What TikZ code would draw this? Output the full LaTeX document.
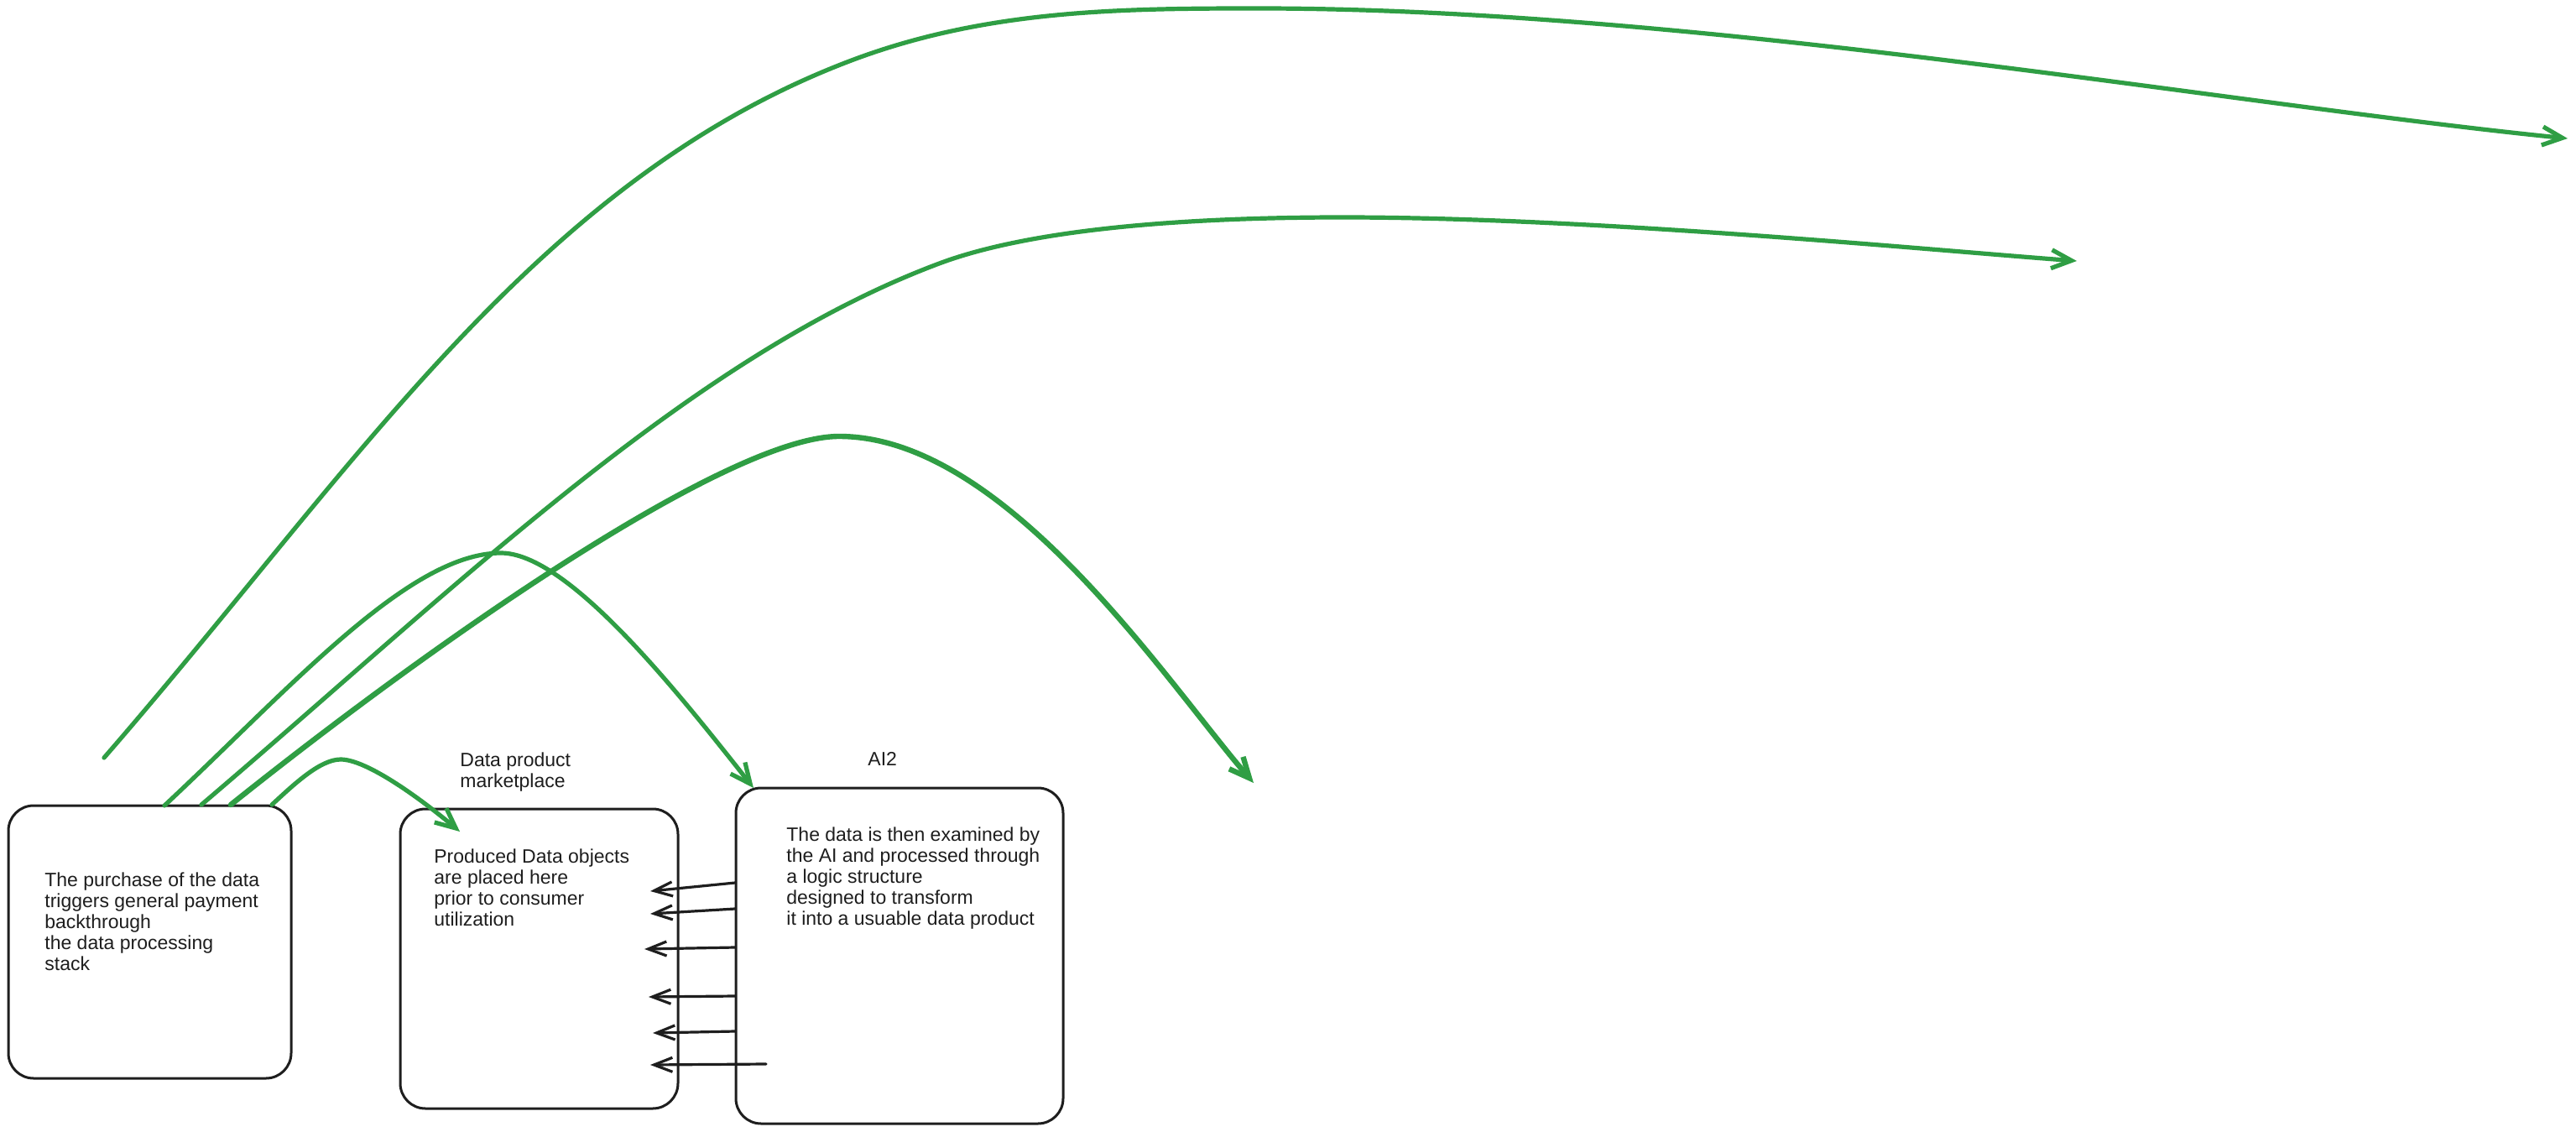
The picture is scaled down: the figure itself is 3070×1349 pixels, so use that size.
\documentclass[tikz,border=0pt]{standalone}
\usepackage{fontspec}
\setmainfont{Liberation Sans}
\usetikzlibrary{arrows.meta}
\definecolor{exgreen}{HTML}{2F9E44}
\definecolor{exblack}{HTML}{1E1E1E}
\begin{document}
\begin{tikzpicture}[x=0.5pt,y=-0.5pt,
  box/.style={draw=exblack, line width=1.5pt, rounded corners=15pt, inner sep=0pt},
  txt/.style={anchor=north west, inner sep=0pt, align=left, font=\fontsize{11.5}{12.5}\selectfont, text=exblack},
  garrow/.style={draw=exgreen, line width=2.6pt, line cap=round, line join=round, -{Straight Barb[length=12pt,width=11pt]}},
  gthick/.style={garrow, line width=3.2pt},
  karrow/.style={draw=exblack, line width=1.6pt, line cap=round, -{Straight Barb[length=11pt,width=8.5pt]}},
]
\fill[white] (0,0) rectangle (3070,1349);
\useasboundingbox (0,0) rectangle (3070,1349);

% boxes
\node[box, minimum width=168.5pt, minimum height=162.5pt] (purchase) at (178.5,1122.5) {};
\node[box, minimum width=165.5pt, minimum height=178.5pt] (market) at (642.5,1142.5) {};
\node[box, minimum width=195pt, minimum height=200pt] (ai) at (1072,1139) {};

% texts
\node[txt] (purchasetext) at (53,1039.4) {The purchase of the data\\triggers general payment\\backthrough\\the data processing\\stack};
\node[txt] (markettext) at (517,1011.4) {Produced Data objects\\are placed here\\prior to consumer\\utilization};
\node[txt] (aitext) at (937,985.4) {The data is then examined by\\the AI and processed through\\a logic structure\\designed to transform\\it into a usuable data product};
\node[txt] (marketlabel) at (548,896.4) {Data product\\marketplace};
\node[txt] (ailabel) at (1034,896.4) {AI2};

% coordinates for green connectors
\coordinate (sA) at (124,903);
\coordinate (eA) at (3060,165);
\coordinate (sD) at (196,960);
\coordinate (eD) at (898,939);
\coordinate (sB) at (240,959);
\coordinate (eB) at (2475,311);
\coordinate (sC) at (275,959);
\coordinate (eC) at (1494,933);
\coordinate (sE) at (324,959);
\coordinate (eE) at (548,991);

\draw[garrow] (sA) .. controls (424,558) and (640,211) .. (1020,70)
  .. controls (1180,11) and (1340,10) .. (1500,10)
  .. controls (2020,10) and (2660,125) .. (eA);
\draw[garrow] (sB) .. controls (540,704) and (822,424) .. (1122,313)
  .. controls (1242,269) and (1440,259) .. (1600,259)
  .. controls (1900,259) and (2300,298) .. (eB);
\draw[gthick] (sC) .. controls (525,759) and (870,520) .. (1000,520)
  .. controls (1200,520) and (1394,818) .. (eC);
\draw[garrow] (sD) .. controls (346,820) and (487,659) .. (597,659)
  .. controls (677,659) and (808,825) .. (eD);
\draw[garrow] (sE) .. controls (349,936) and (381,905) .. (406,905)
  .. controls (436,905) and (498,949) .. (eE);

% black arrows from AI box to marketplace
\coordinate (k1s) at (876,1052); \coordinate (k1e) at (775,1062);
\coordinate (k2s) at (876,1083); \coordinate (k2e) at (775,1089);
\coordinate (k3s) at (876,1129); \coordinate (k3e) at (768,1131);
\coordinate (k4s) at (876,1187); \coordinate (k4e) at (773,1188);
\coordinate (k5s) at (876,1229); \coordinate (k5e) at (778,1231);
\coordinate (k6s) at (913,1268); \coordinate (k6e) at (775,1269);
\foreach \i in {1,...,6} {\draw[karrow] (k\i s) -- (k\i e);}
\end{tikzpicture}
\end{document}
